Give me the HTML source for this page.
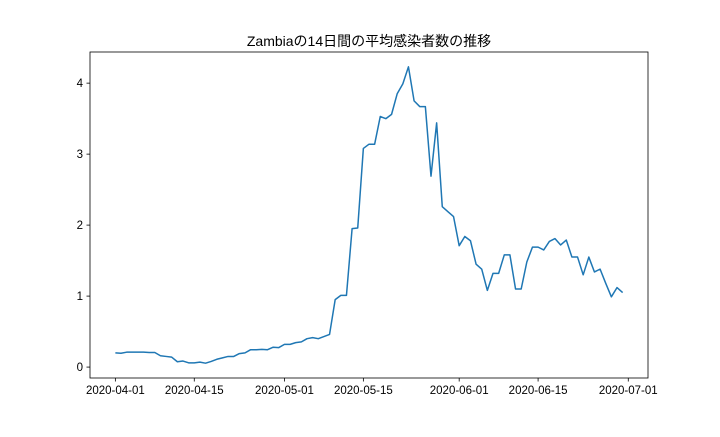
<!DOCTYPE html>
<html><head><meta charset="utf-8"><style>
html,body{margin:0;padding:0;background:#fff;}
svg text{font-family:"Liberation Sans","Noto Sans CJK JP",sans-serif;fill:#000;}
</style></head><body>
<svg id="chart" width="720" height="432" xmlns="http://www.w3.org/2000/svg">
<rect width="720" height="432" fill="#fff"/>
<text x="369" y="46" font-size="14" text-anchor="middle">Zambiaの14日間の平均感染者数の推移</text>
<g id="axes"></g>
<path id="line" fill="none" stroke="#1f77b4" stroke-width="1.5" stroke-linejoin="round"/>
<rect x="90" y="52" width="558" height="326" fill="none" stroke="#000" stroke-width="0.8"/>
</svg>
<script>
const startDate = "2020-04-01";
const values = [0.20,0.195,0.21,0.21,0.21,0.21,0.205,0.205,0.16,0.15,0.14,0.075,0.085,0.06,0.06,0.07,0.055,0.08,0.11,0.13,0.15,0.15,0.19,0.20,0.245,0.245,0.25,0.245,0.28,0.275,0.32,0.32,0.345,0.355,0.40,0.415,0.40,0.43,0.46,0.95,1.01,1.01,1.95,1.96,3.08,3.14,3.14,3.53,3.50,3.56,3.85,3.99,4.23,3.75,3.67,3.67,2.69,3.44,2.26,2.19,2.12,1.71,1.84,1.78,1.45,1.38,1.08,1.32,1.32,1.58,1.58,1.10,1.10,1.48,1.69,1.69,1.65,1.77,1.81,1.72,1.79,1.55,1.55,1.30,1.55,1.34,1.38,1.18,0.99,1.12,1.05];
const xTickLabels = ["2020-04-01","2020-04-15","2020-05-01","2020-05-15","2020-06-01","2020-06-15","2020-07-01"];
const yTicks = [0,1,2,3,4];

const NS="http://www.w3.org/2000/svg";
const L=90,R=648,T=52,B=378;
const t0=Date.parse(startDate);
const day=s=>(Date.parse(s)-t0)/86400000;
const n=values.length-1;
const span=(R-L)/1.1;
const x=d=>L+0.05*span+d*span/n;
const vmax=Math.max(...values), vmin=Math.min(...values);
const vspan=(B-T)/1.1;
const vrange=(vmax-vmin)||1;
const y=v=>B-0.05*vspan-(v-vmin)*vspan/vrange;
const ax=document.getElementById('axes');
function mk(tag,attrs){const e=document.createElementNS(NS,tag);for(const k in attrs)e.setAttribute(k,attrs[k]);return e;}
xTickLabels.forEach(lbl=>{
  const px=x(day(lbl));
  const tk=mk('line',{x1:px,x2:px,y1:B,y2:B+3.5,stroke:'#000','stroke-width':0.8});
  
  
  ax.appendChild(tk);
  const t=mk('text',{x:px,y:B+16,'font-size':11.5,'text-anchor':'middle'});
  
  
  t.textContent=lbl;ax.appendChild(t);
});
yTicks.forEach(v=>{
  const py=y(v);
  const tk=mk('line',{x1:L-3.5,x2:L,y1:py,y2:py,stroke:'#000','stroke-width':0.8});
  
  
  ax.appendChild(tk);
  const t=mk('text',{x:L-7,y:py+4,'font-size':11.5,'text-anchor':'end'});
  
  
  t.textContent=v;ax.appendChild(t);
});
document.getElementById('line').setAttribute('d',values.map((v,i)=>(i?'L':'M')+x(i).toFixed(2)+' '+y(v).toFixed(2)).join(' '));
</script>
</body></html>
